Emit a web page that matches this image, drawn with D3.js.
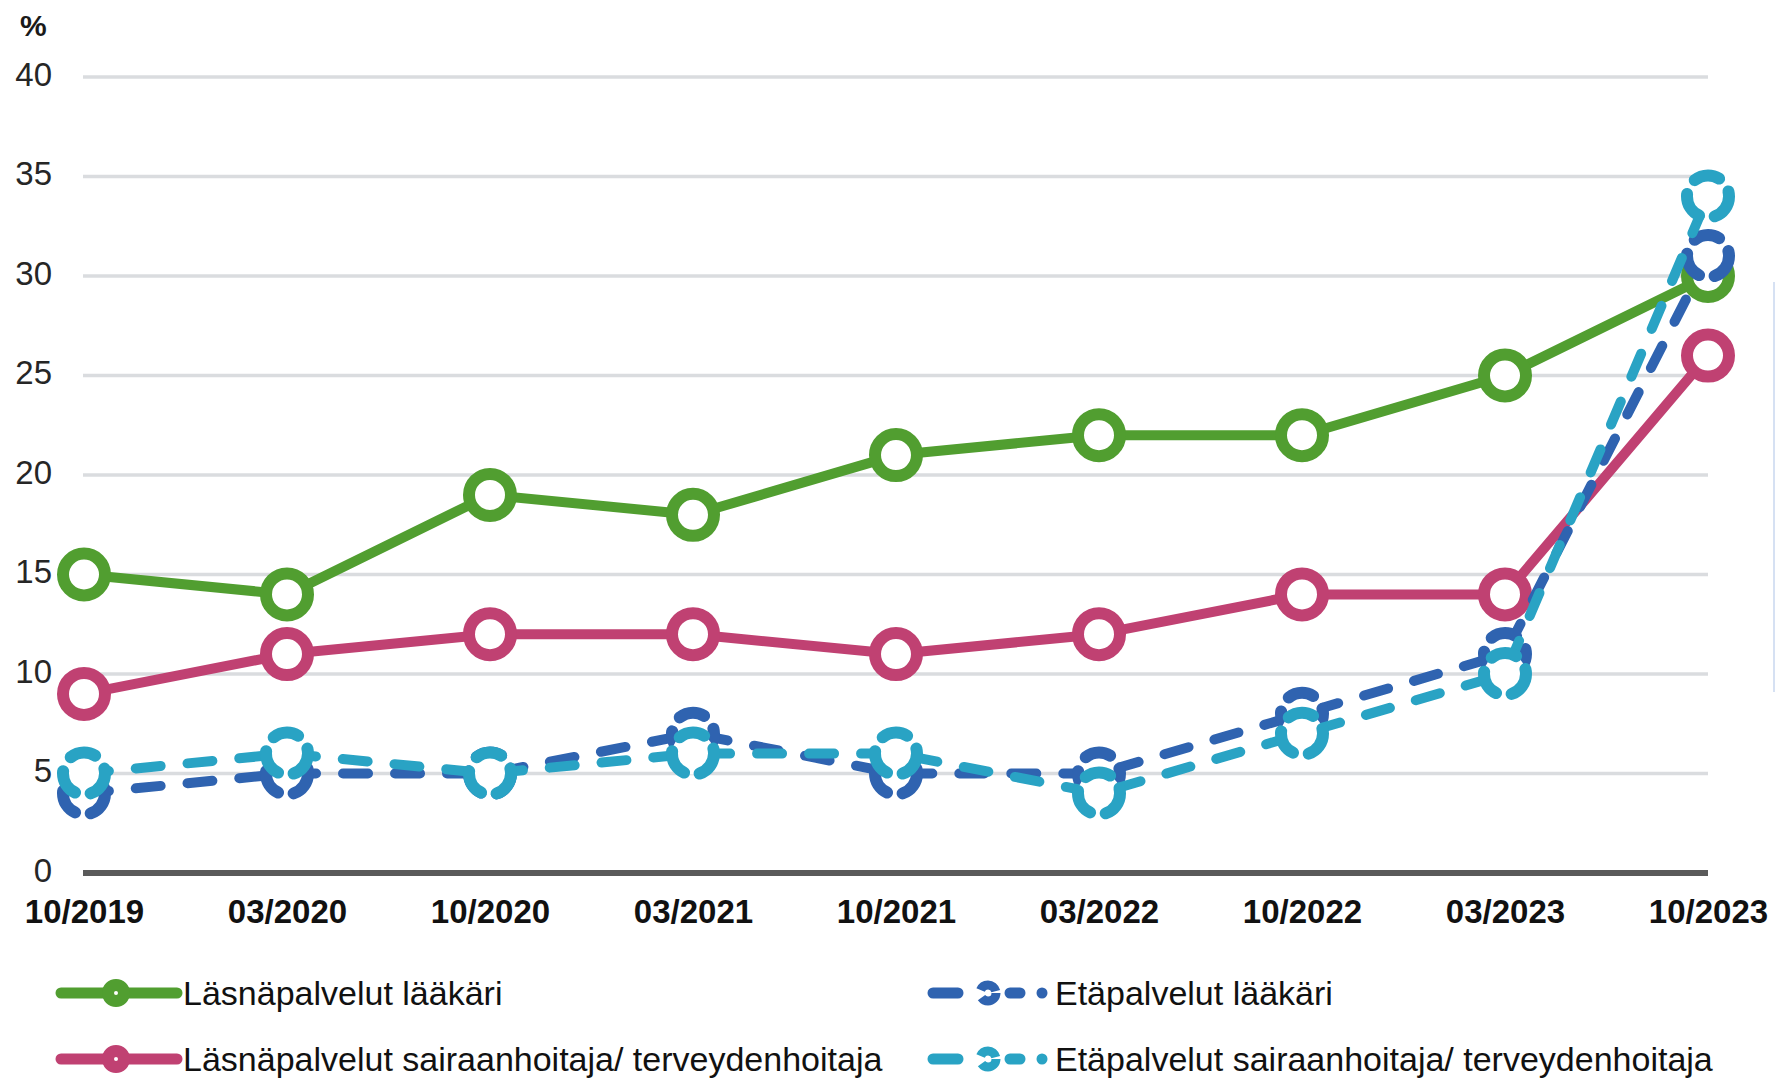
<!DOCTYPE html>
<html>
<head>
<meta charset="utf-8">
<script src="https://cdn.jsdelivr.net/npm/d3@7"></script>
<style>
  html, body { margin: 0; padding: 0; background: #ffffff; }
  svg { display: block; }
  text { font-family: "Liberation Sans", Arial, sans-serif; }
</style>
</head>
<body>
<svg id="chart" width="1775" height="1081"></svg>
<script>
const categories = ["10/2019", "03/2020", "10/2020", "03/2021", "10/2021", "03/2022", "10/2022", "03/2023", "10/2023"];
const yTicks = [0, 5, 10, 15, 20, 25, 30, 35, 40];

const lasnaLaakari = [15, 14, 19, 18, 21, 22, 22, 25, 30];
const lasnaHoitaja = [9, 11, 12, 12, 11, 12, 14, 14, 26];
const etaLaakari = [4, 5, 5, 7, 5, 5, 8, 11, 31];
const etaHoitaja = [5, 6, 5, 6, 6, 4, 7, 10, 34];

const seriesNames = [
  "Läsnäpalvelut lääkäri",
  "Läsnäpalvelut sairaanhoitaja/ terveydenhoitaja",
  "Etäpalvelut lääkäri",
  "Etäpalvelut sairaanhoitaja/ terveydenhoitaja"
];
const seriesColors = ["#519E30", "#C04172", "#2F63B0", "#29A3C4"];
const seriesDashed = [false, false, true, true];
const seriesValues = [lasnaLaakari, lasnaHoitaja, etaLaakari, etaHoitaja];

const series = seriesNames.map((name, i) => ({
  name, color: seriesColors[i], dashed: seriesDashed[i], values: seriesValues[i]
}));

const svg = d3.select("#chart");

const x = d3.scalePoint().domain(categories).range([84, 1708]);
const y = d3.scaleLinear().domain([0, 40]).range([873, 77]);

// gridlines
svg.append("g").selectAll("line")
  .data(yTicks.filter(d => d > 0))
  .join("line")
  .attr("x1", 83).attr("x2", 1708)
  .attr("y1", d => y(d)).attr("y2", d => y(d))
  .attr("stroke", "#DADCDF").attr("stroke-width", 3.5);

// y axis labels
const yAxis = d3.axisLeft(y).tickValues(yTicks).tickSize(0).tickPadding(0);
const gy = svg.append("g").attr("transform", "translate(52,0)").call(yAxis);
gy.select(".domain").remove();
gy.selectAll("text")
  .attr("font-family", "Liberation Sans, Arial, sans-serif")
  .attr("font-size", 33)
  .attr("fill", "#262626")
  .attr("dy", "0.31em")
  .attr("y", -2);

// % label
svg.append("text").attr("x", 20).attr("y", 36)
  .attr("font-size", 30).attr("font-weight", "bold").attr("fill", "#1a1a1a")
  .text("%");

// x axis baseline
svg.append("line")
  .attr("x1", 83).attr("x2", 1708)
  .attr("y1", y(0)).attr("y2", y(0))
  .attr("stroke", "#5A5A5A").attr("stroke-width", 6);

// x axis labels
const xAxis = d3.axisBottom(x).tickSize(0).tickPadding(0);
const gx = svg.append("g").attr("transform", "translate(0,923)").call(xAxis);
gx.select(".domain").remove();
gx.selectAll("text")
  .attr("font-family", "Liberation Sans, Arial, sans-serif")
  .attr("font-size", 33)
  .attr("font-weight", "bold")
  .attr("fill", "#111")
  .attr("dy", 0);

const line = d3.line().x((d, i) => x(categories[i])).y(d => y(d));
const dash = "25,27";

series.forEach(s => {
  const g = svg.append("g");
  g.append("path")
    .attr("d", line(s.values))
    .attr("fill", "none")
    .attr("stroke", s.color)
    .attr("stroke-width", 10)
    .attr("stroke-linejoin", "round")
    .attr("stroke-linecap", "round")
    .attr("stroke-dasharray", s.dashed ? dash : null);
  g.selectAll("circle")
    .data(s.values)
    .join("circle")
    .attr("cx", (d, i) => x(categories[i]))
    .attr("cy", d => y(d))
    .attr("r", 21)
    .attr("fill", "#fff")
    .attr("stroke", s.color)
    .attr("stroke-width", 12)
    .attr("stroke-linecap", s.dashed ? "round" : null)
    .attr("stroke-dasharray", s.dashed ? "26,16" : null);
});

// legend
const legendPos = [
  { x: 56, y: 993 }, { x: 56, y: 1059 },
  { x: 928, y: 993 }, { x: 928, y: 1059 }
];
series.forEach((s, i) => {
  const p = legendPos[i];
  const g = svg.append("g").attr("transform", `translate(${p.x},${p.y})`);
  if (!s.dashed) {
    g.append("line").attr("x1", 5).attr("x2", 121).attr("y1", 0).attr("y2", 0)
      .attr("stroke", s.color).attr("stroke-width", 11).attr("stroke-linecap", "round");
  } else {
    g.append("line").attr("x1", 5).attr("x2", 30).attr("y1", 0).attr("y2", 0)
      .attr("stroke", s.color).attr("stroke-width", 11).attr("stroke-linecap", "round");
    g.append("line").attr("x1", 82).attr("x2", 92).attr("y1", 0).attr("y2", 0)
      .attr("stroke", s.color).attr("stroke-width", 11).attr("stroke-linecap", "round");
    g.append("circle").attr("cx", 114).attr("cy", 0).attr("r", 5.5).attr("fill", s.color);
  }
  g.append("circle").attr("cx", 60).attr("cy", 0).attr("r", 8)
    .attr("fill", "#fff").attr("stroke", s.color).attr("stroke-width", s.dashed ? 9 : 12)
    .attr("stroke-dasharray", s.dashed ? "20,8" : null);
  g.append("text").attr("x", 127).attr("y", 12)
    .attr("font-size", 34).attr("fill", "#111")
    .text(s.name);
});

// thin border fragment at right edge
svg.append("line").attr("x1", 1774).attr("x2", 1774).attr("y1", 282).attr("y2", 692)
  .attr("stroke", "#C8D7EF").attr("stroke-width", 1.5);
</script>
</body>
</html>
